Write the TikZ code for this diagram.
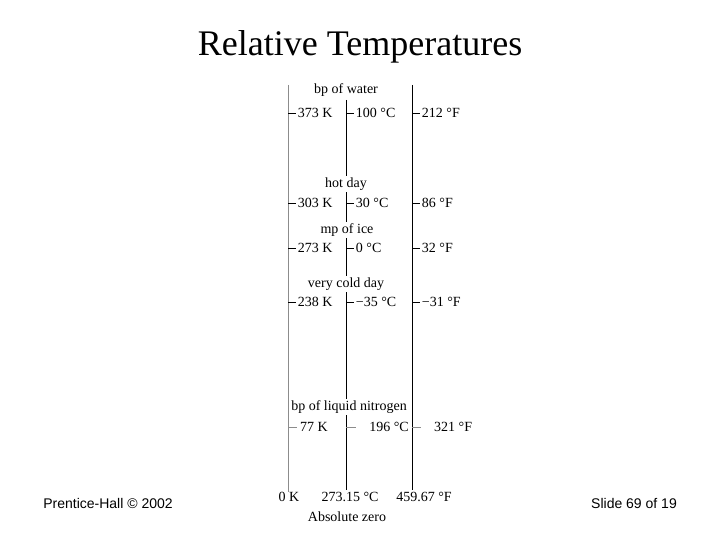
\documentclass[tikz,border=0pt]{standalone}
\usepackage{fontspec}
\setmainfont{Liberation Serif}
\newfontfamily\footfont{Liberation Sans}
\usetikzlibrary{positioning}

\begin{document}
\begin{tikzpicture}[x=1pt, y=-1pt, every node/.style={font=\fontsize{14}{16}\selectfont, inner sep=1pt},
  kline/.style={black!45, line width=0.7pt}, scaleline/.style={line width=0.9pt},
  scaletick/.style={line width=0.8pt}, event/.style={fill=white, inner sep=1.5pt},
  footer/.style={font=\footfont\fontsize{14}{16}\selectfont}]
  \useasboundingbox (0,0) rectangle (720,540);
  \node (title) at (360,47) {\fontsize{36}{40}\selectfont Relative Temperatures};
  % the three scales
  \coordinate (Ktop) at (288,85);  \coordinate (Kbot) at (288,492);
  \coordinate (Ctop) at (346,100); \coordinate (Cbot) at (346,490);
  \coordinate (Ftop) at (412,85);  \coordinate (Fbot) at (412,490);
  \draw[kline] (Ktop) -- (Kbot);
  \draw[scaleline] (Ctop) -- (Cbot);
  \draw[scaleline] (Ftop) -- (Fbot);
  % marked temperatures
  \foreach \y/\k/\c/\f in {113/373 K/100 °C/212 °F, 203/303 K/30 °C/86 °F,
      248/273 K/0 °C/32 °F, 302/238 K/−35 °C/−31 °F} {
    \coordinate (kt\y) at (288,\y); \coordinate (ct\y) at (346,\y); \coordinate (ft\y) at (412,\y);
    \draw[scaletick] (kt\y) -- ++(8,0) node[right, inner sep=1.5pt] (k\y) {\k};
    \draw[scaletick] (ct\y) -- ++(8,0) node[right, inner sep=1.5pt] (c\y) {\c};
    \draw[scaletick] (ft\y) -- ++(8,0) node[right, inner sep=1.5pt] (f\y) {\f};
  }
  % liquid nitrogen
  \coordinate (kt427) at (288,427); \coordinate (ct427) at (346,427); \coordinate (ft427) at (412,427);
  \draw[kline] (kt427) -- ++(9,0) coordinate (kn);
  \draw[black!45] (ct427) -- ++(10,0) coordinate (cn);
  \draw[black!45] (ft427) -- ++(9,0) coordinate (fn);
  \node[right=2pt of kn] (k427) {77 K};
  \node[anchor=east] (c427) at (410,427) {196 °C};
  \node[right=12pt of fn] (f427) {321 °F};
  % events
  \node[event] (water) at (346,90) {bp of water};
  \node[event] (hot) at (346,184) {hot day};
  \node[event] (ice) at (347,230) {mp of ice};
  \node[event] (cold) at (346,284) {very cold day};
  \node[event] (nitrogen) at (349,407) {bp of liquid nitrogen};
  % absolute zero
  \node (k0) at (289,497) {0 K};
  \node (c0) at (350,497) {273.15 °C};
  \node (f0) at (424,497) {459.67 °F};
  \node (zero) at (347,517) {Absolute zero};
  % footer
  \node[footer] (press) at (108,503) {Prentice-Hall © 2002};
  \node[footer] (slide) at (634,503) {Slide 69 of 19};
\end{tikzpicture}
\end{document}
